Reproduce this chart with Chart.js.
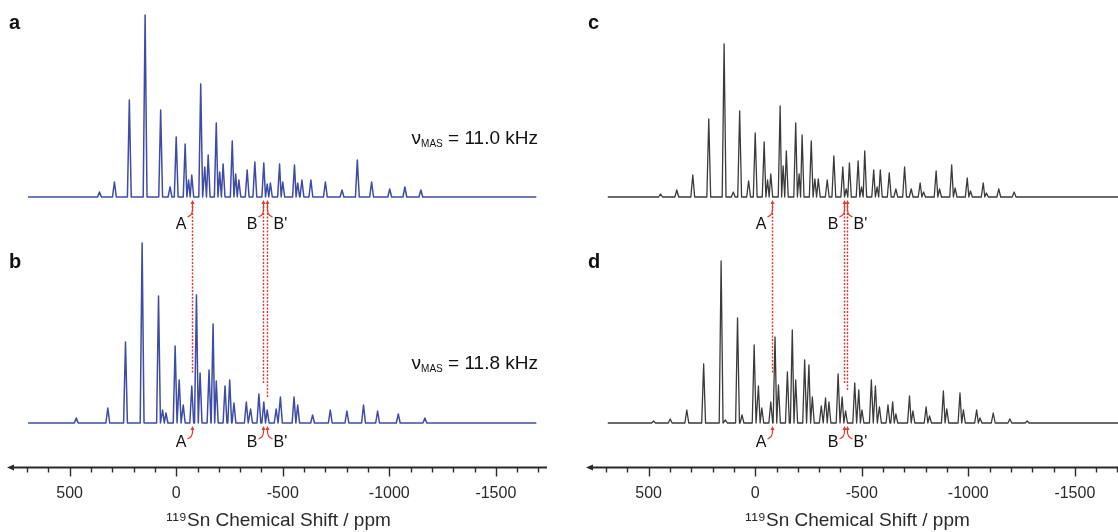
<!DOCTYPE html>
<html lang="en">
<head>
<meta charset="UTF-8">
<title>119Sn MAS NMR</title>
<script src="https://cdn.jsdelivr.net/npm/chart.js@4"></script>
<style>
  html, body { margin: 0; padding: 0; background: #fff; }
  #wrap { position: relative; width: 1118px; height: 532px; overflow: hidden; }
  .panel { position: absolute; top: 0; width: 560px; height: 532px; }
</style>
</head>
<body>
<div id="wrap">
  <div class="panel" style="left:0"><canvas id="left" width="560" height="532"></canvas></div>
  <div class="panel" style="left:579px"><canvas id="right" width="560" height="532"></canvas></div>
</div>
<script>
// measured spectra: peak shift (ppm) and peak height (arb. units)
// a: experiment, 11.0 kHz
const aShift = [360, 290, 220, 146, 73, 29, 0, -42, -58, -73, -115, -134, -150, -188, -204, -220, -263, -279, -294, -333, -369, -411, -427, -442, -485, -500, -555, -570, -590, -632, -700, -778, -850, -917, -1002, -1073, -1148];
const aHeight = [5, 15, 97, 182, 87, 10, 60, 53, 17, 22, 113, 30, 42, 74, 25, 33, 56, 23, 17, 27, 35, 34, 13, 14, 33, 15, 32, 14, 17, 17, 15, 7, 37, 15, 8, 10, 7];
// b: experiment, 11.8 kHz
const bShift = [469, 321, 238, 160, 83, 64, 48, 5, -14, -33, -73, -95, -112, -154, -173, -188, -229, -251, -271, -329, -349, -388, -411, -427, -469, -489, -553, -570, -640, -723, -801, -879, -945, -1042, -1167];
const bHeight = [5, 15, 81, 180, 127, 13, 10, 77, 43, 18, 37, 128, 50, 53, 99, 42, 37, 43, 20, 21, 14, 29, 21, 13, 14, 26, 26, 18, 8, 13, 12, 18, 12, 9, 5];
// c: simulation, 11.0 kHz
const cShift = [444, 368, 293, 218, 146, 103, 73, 31, 0, -42, -58, -73, -117, -131, -146, -190, -206, -220, -263, -280, -296, -338, -369, -411, -427, -442, -483, -499, -514, -556, -572, -587, -629, -660, -701, -732, -774, -790, -849, -865, -922, -938, -995, -1010, -1070, -1085, -1143, -1215];
const cHeight = [3, 7, 22, 78, 153, 5, 86, 16, 64, 55, 17, 23, 91, 31, 46, 74, 23, 62, 56, 18, 18, 17, 41, 30, 8, 34, 36, 10, 46, 27, 10, 27, 24, 8, 30, 8, 14, 5, 26, 8, 32, 9, 19, 6, 14, 4, 8, 5];
// d: simulation, 11.8 kHz
const dShift = [477, 399, 321, 242, 160, 140, 83, 62, 5, -15, -31, -73, -93, -109, -151, -174, -190, -232, -252, -268, -310, -330, -346, -389, -408, -424, -467, -486, -501, -545, -564, -583, -623, -645, -660, -724, -740, -802, -818, -883, -899, -961, -977, -1039, -1055, -1117, -1195, -1276];
const dHeight = [2, 4, 13, 59, 162, 3, 105, 8, 78, 37, 15, 21, 86, 38, 51, 93, 43, 63, 58, 26, 17, 25, 21, 49, 26, 12, 40, 33, 13, 43, 37, 16, 18, 21, 9, 27, 12, 16, 7, 32, 14, 30, 13, 13, 5, 10, 4, 2];

// spectral window of each trace (ppm)
const expRange = [695, -1690];
const simRange = [692, -1760];

// axis
const axisRange = [-1740, 780];
const majorTicks = [500, 0, -500, -1000, -1500];
const spinRates = ['11.0 kHz', '11.8 kHz'];

// marked sites A, B, B' (ppm) and where the dotted guide stops on the lower trace
const markNames = ['A', 'B', "B'"];
const markSide = [-1, -1, 1];
const markLeft = [-73, -408, -424];
const markRight = [-78, -415, -431];
const guideEndLeft = [50, 40, 25];
const guideEndRight = [50, 40, 33];

const FONT = '"Liberation Sans", Arial, sans-serif';
const RED = '#e2392f';
const HALF_WIDTH = 9;
Chart.defaults.font.family = FONT;

// each peak drawn as a narrow line going up from the baseline
function trace(shifts, heights, range) {
  const pts = [{x: range[0], y: 0}];
  for (let i = 0; i < shifts.length; i++) {
    const prev = i > 0 ? shifts[i - 1] : range[0];
    const next = i < shifts.length - 1 ? shifts[i + 1] : range[1];
    const wl = Math.min(HALF_WIDTH, (prev - shifts[i]) / 2);
    const wr = Math.min(HALF_WIDTH, (shifts[i] - next) / 2);
    pts.push({x: shifts[i] + wl, y: 0}, {x: shifts[i], y: heights[i]}, {x: shifts[i] - wr, y: 0});
  }
  pts.push({x: range[1], y: 0});
  return pts;
}

function drawNu(ctx, right, baseline, rate) {
  const rest = ' = ' + rate;
  ctx.font = '19px ' + FONT;
  const wNu = ctx.measureText('ν').width;
  const wRest = ctx.measureText(rest).width;
  ctx.font = '10px ' + FONT;
  const wSub = ctx.measureText('MAS').width;
  let x = right - wNu - wSub - wRest;
  ctx.fillStyle = '#111';
  ctx.textAlign = 'left';
  ctx.textBaseline = 'alphabetic';
  ctx.font = '19px ' + FONT;
  ctx.fillText('ν', x, baseline);
  x += wNu;
  ctx.font = '10px ' + FONT;
  ctx.fillText('MAS', x, baseline + 3);
  x += wSub;
  ctx.font = '19px ' + FONT;
  ctx.fillText(rest, x, baseline);
}

function drawMark(ctx, px, baseY, shaft, textDrop, side, name) {
  const tip = baseY + 3;
  ctx.fillStyle = RED;
  ctx.strokeStyle = RED;
  ctx.lineWidth = 1.2;
  ctx.setLineDash([]);
  ctx.beginPath();
  ctx.moveTo(px, tip);
  ctx.lineTo(px - 2, tip + 4);
  ctx.lineTo(px + 2, tip + 4);
  ctx.closePath();
  ctx.fill();
  ctx.beginPath();
  ctx.moveTo(px, tip + 3);
  ctx.lineTo(px, tip + shaft);
  ctx.quadraticCurveTo(px, tip + shaft + 5, px + side * 5, tip + shaft + 7);
  ctx.stroke();
  ctx.fillStyle = '#111';
  ctx.font = '16px ' + FONT;
  ctx.textAlign = side < 0 ? 'right' : 'left';
  ctx.textBaseline = 'alphabetic';
  ctx.fillText(name, px + side * 6, baseY + textDrop);
}

function decor(letters, rates, marks, guideEnds) {
  return {
    id: 'decor',
    afterDraw(chart) {
      const ctx = chart.ctx;
      const area = chart.chartArea;
      const x = chart.scales.x, ya = chart.scales.ya, yb = chart.scales.yb;
      ctx.save();
      // axis line with arrow and tick marks
      const y0 = area.bottom + 0.5;
      ctx.strokeStyle = '#2a2a2a';
      ctx.fillStyle = '#2a2a2a';
      ctx.lineWidth = 1.8;
      ctx.beginPath();
      ctx.moveTo(area.left, y0);
      ctx.lineTo(area.right, y0);
      ctx.stroke();
      ctx.beginPath();
      ctx.moveTo(area.left - 3, y0);
      ctx.lineTo(area.left + 4, y0 - 3);
      ctx.lineTo(area.left + 4, y0 + 3);
      ctx.closePath();
      ctx.fill();
      ctx.lineWidth = 1.4;
      x.ticks.forEach(t => {
        const px = Math.round(x.getPixelForValue(t.value)) + 0.5;
        const len = majorTicks.includes(t.value) ? 9 : 5;
        ctx.beginPath();
        ctx.moveTo(px, y0);
        ctx.lineTo(px, y0 + len);
        ctx.stroke();
      });
      // panel letters
      const baseA = ya.getPixelForValue(0);
      const baseB = yb.getPixelForValue(0);
      ctx.fillStyle = '#111';
      ctx.font = 'bold 20px ' + FONT;
      ctx.textAlign = 'left';
      ctx.textBaseline = 'alphabetic';
      ctx.fillText(letters[0], 9, 29);
      ctx.fillText(letters[1], 9, 268);
      // spinning rates
      if (rates) {
        drawNu(ctx, 538, 144, rates[0]);
        drawNu(ctx, 538, 369, rates[1]);
      }
      // dotted guides between the two traces
      ctx.strokeStyle = RED;
      ctx.lineWidth = 1.4;
      ctx.setLineDash([2, 1.5]);
      marks.forEach((m, i) => {
        const px = Math.round(x.getPixelForValue(m)) + 0.5;
        ctx.beginPath();
        ctx.moveTo(px, baseA + 9);
        ctx.lineTo(px, yb.getPixelForValue(guideEnds[i]));
        ctx.stroke();
      });
      // arrows and site labels
      marks.forEach((m, i) => {
        const px = Math.round(x.getPixelForValue(m)) + 0.5;
        drawMark(ctx, px, baseA, 10, 32, markSide[i], markNames[i]);
        drawMark(ctx, px, baseB, 6, 24, markSide[i], markNames[i]);
      });
      ctx.restore();
    }
  };
}

function makeChart(id, top, bottom, range, color, width, letters, rates, marks, guideEnds) {
  new Chart(document.getElementById(id), {
    type: 'line',
    data: {
      datasets: [
        {data: trace(top[0], top[1], range), yAxisID: 'ya', borderColor: color, borderWidth: width},
        {data: trace(bottom[0], bottom[1], range), yAxisID: 'yb', borderColor: color, borderWidth: width}
      ]
    },
    options: {
      responsive: false,
      animation: false,
      devicePixelRatio: 1,
      layout: {padding: {left: 10, right: 13, top: 0, bottom: 0}},
      elements: {point: {radius: 0}, line: {tension: 0, borderJoinStyle: 'round'}},
      plugins: {legend: {display: false}, tooltip: {enabled: false}},
      scales: {
        x: {
          type: 'linear',
          min: axisRange[0],
          max: axisRange[1],
          reverse: true,
          afterBuildTicks: s => {
            const t = [];
            for (let v = -1700; v <= 700; v += 100) t.push({value: v});
            s.ticks = t;
          },
          afterFit: s => { s.height = 65; },
          grid: {display: false, drawTicks: false},
          border: {display: false},
          ticks: {
            autoSkip: false,
            maxRotation: 0,
            padding: 17,
            color: '#2a2a2a',
            font: {size: 16},
            callback: v => majorTicks.includes(v) ? String(v) : ''
          },
          title: {
            display: true,
            text: '¹¹⁹Sn Chemical Shift / ppm',
            color: '#2a2a2a',
            font: {size: 19},
            padding: {top: 0, bottom: 0}
          }
        },
        // upper trace baseline sits at 197 px, lower at 423 px of a 467 px plot area
        ya: {display: false, min: -270, max: 197},
        yb: {display: false, min: -44, max: 423}
      }
    },
    plugins: [decor(letters, rates, marks, guideEnds)]
  });
}

makeChart('left', [aShift, aHeight], [bShift, bHeight], expRange, '#3f4ca6', 1.5, ['a', 'b'], spinRates, markLeft, guideEndLeft);
makeChart('right', [cShift, cHeight], [dShift, dHeight], simRange, '#3a3a3a', 1.3, ['c', 'd'], null, markRight, guideEndRight);
</script>
</body>
</html>
